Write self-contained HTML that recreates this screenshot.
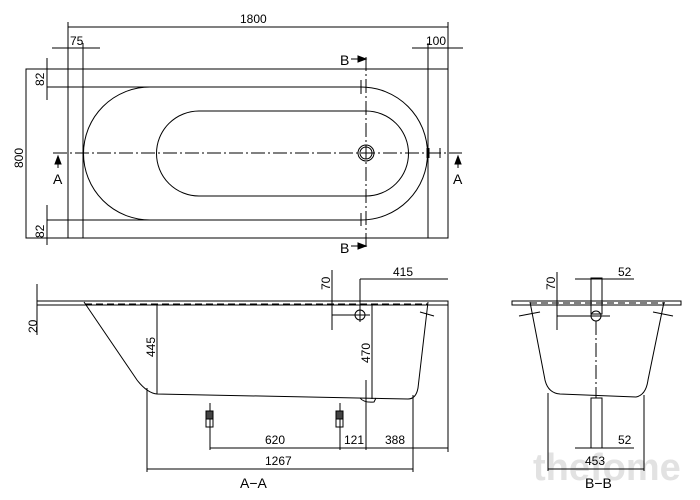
<!DOCTYPE html>
<html><head><style>body{margin:0;background:#fff}svg{display:block}text{font-family:"Liberation Sans",sans-serif;font-size:12px;fill:#000}</style></head><body>
<svg width="700" height="500" viewBox="0 0 700 500" fill="none" stroke="#000" stroke-width="1">
<text x="533" y="480" stroke="none" style="font-size:38px;font-weight:bold;fill:#e2e2e2">thefome</text>
<!-- top view -->
<line x1="68" y1="27" x2="448" y2="27"/><line x1="68" y1="22" x2="68" y2="238"/><line x1="448" y1="22" x2="448" y2="238"/>
<text x="240" y="23" stroke="none">1800</text>
<line x1="52" y1="48" x2="100" y2="48"/><line x1="83" y1="43" x2="83" y2="238"/><text x="70" y="45" stroke="none">75</text>
<line x1="412" y1="48" x2="463" y2="48"/><line x1="428" y1="43" x2="428" y2="238"/><text x="426" y="45" stroke="none">100</text>
<rect x="26" y="69" width="422" height="169"/>
<line x1="47" y1="87" x2="150" y2="87"/><line x1="47" y1="220" x2="150" y2="220"/>
<line x1="47" y1="58" x2="47" y2="100"/><line x1="47" y1="205" x2="47" y2="245"/>
<text transform="translate(44,86) rotate(-90)" stroke="none">82</text>
<text transform="translate(44,238) rotate(-90)" stroke="none">82</text>
<text transform="translate(23,168) rotate(-90)" stroke="none">800</text>
<path d="M150,87 L361,87 A66.5,66.5 0 0 1 361,220 L150,220 A66.5,66.5 0 0 1 150,87 Z"/>
<path d="M199,111 L366,111 A42.5,42.5 0 0 1 366,196 L199,196 A42.5,42.5 0 0 1 199,111 Z"/>
<line x1="53" y1="153" x2="462" y2="153" stroke-dasharray="14,3,2,3"/>
<line x1="366" y1="57" x2="366" y2="250" stroke-dasharray="14,3,2,3"/>
<circle cx="366" cy="153" r="8"/><circle cx="366" cy="153" r="6"/>
<line x1="428" y1="148" x2="428" y2="158" stroke-width="3"/><line x1="440" y1="148" x2="440" y2="158"/>
<line x1="361" y1="80" x2="361" y2="94"/><line x1="361" y1="213" x2="361" y2="226"/>
<text x="340" y="65" stroke="none" style="font-size:14px">B</text><path d="M351,59 L366,59" /><path d="M358,56 L366,59 L358,62 Z" fill="#000"/>
<text x="340" y="253" stroke="none" style="font-size:14px">B</text><path d="M351,246 L366,246"/><path d="M358,243 L366,246 L358,249 Z" fill="#000"/>
<line x1="58" y1="157" x2="58" y2="168"/><path d="M55,164 L58,156 L61,164Z" fill="#000"/><text x="53" y="184" stroke="none" style="font-size:14px">A</text>
<line x1="458" y1="157" x2="458" y2="168"/><path d="M455,164 L458,156 L461,164Z" fill="#000"/><text x="453" y="184" stroke="none" style="font-size:14px">A</text>
<!-- A-A -->
<rect x="37" y="301" width="411" height="4"/>
<line x1="85" y1="304" x2="428" y2="304" stroke-dasharray="7,4"/>
<path d="M84,302 L137,380 Q147,393 157,394 L408,399 Q416,399 418,388 L428,302"/>
<line x1="37" y1="284" x2="37" y2="335"/><text transform="translate(37,333) rotate(-90)" stroke="none">20</text>
<line x1="157" y1="305" x2="157" y2="394"/><text transform="translate(155,357) rotate(-90)" stroke="none">445</text>
<line x1="372" y1="305" x2="372" y2="399"/><text transform="translate(370,363) rotate(-90)" stroke="none">470</text>
<line x1="360" y1="279" x2="448" y2="279"/><line x1="360" y1="279" x2="360" y2="315"/><text x="393" y="276" stroke="none">415</text>
<line x1="332" y1="270" x2="332" y2="330"/><line x1="332" y1="315" x2="370" y2="315"/><circle cx="360" cy="315" r="5"/><line x1="360" y1="308" x2="360" y2="322"/>
<text transform="translate(330,290) rotate(-90)" stroke="none">70</text>
<line x1="420" y1="312" x2="434" y2="316"/>
<path d="M360,398 Q364,403 374,402 L376,398"/>
<line x1="448" y1="305" x2="448" y2="452"/>
<line x1="147" y1="388" x2="147" y2="472"/><line x1="413" y1="395" x2="413" y2="472"/>
<line x1="210" y1="403" x2="210" y2="450"/><line x1="340" y1="403" x2="340" y2="450"/><line x1="366" y1="380" x2="366" y2="450"/>
<rect x="206" y="411" width="7" height="8" fill="#444"/><rect x="206" y="419" width="7" height="8"/>
<rect x="336" y="411" width="7" height="8" fill="#444"/><rect x="336" y="419" width="7" height="8"/>
<line x1="210" y1="448" x2="448" y2="448"/>
<text x="265" y="444" stroke="none">620</text><text x="344" y="444" stroke="none">121</text><text x="385" y="444" stroke="none">388</text>
<line x1="147" y1="469" x2="413" y2="469"/><text x="265" y="465" stroke="none">1267</text>
<text x="240" y="488" stroke="none" style="font-size:14px">A−A</text>
<!-- B-B -->
<rect x="512" y="301" width="169" height="4"/>
<line x1="530" y1="303" x2="665" y2="303" stroke-dasharray="7,4"/>
<path d="M530,302 L545,380 Q548,393 560,394 L636,397 Q646,395 648,380 L664,302"/>
<line x1="519" y1="316" x2="540" y2="312"/><line x1="653" y1="312" x2="673" y2="316"/>
<rect x="591" y="278" width="11" height="36"/><circle cx="596" cy="316" r="5"/>
<line x1="596" y1="321" x2="596" y2="398" stroke-dasharray="14,3,2,3"/>
<line x1="557" y1="272" x2="557" y2="330"/><line x1="557" y1="316" x2="610" y2="316"/>
<text transform="translate(555,290) rotate(-90)" stroke="none">70</text>
<line x1="575" y1="279" x2="634" y2="279"/><text x="618" y="276" stroke="none">52</text>
<rect x="591" y="398" width="11" height="50"/>
<line x1="575" y1="448" x2="634" y2="448"/><text x="618" y="444" stroke="none">52</text>
<line x1="548" y1="393" x2="548" y2="471"/><line x1="644" y1="395" x2="644" y2="471"/>
<line x1="548" y1="469" x2="644" y2="469"/><text x="585" y="465" stroke="none">453</text>
<text x="585" y="488" stroke="none" style="font-size:14px">B−B</text>
</svg>
</body></html>
